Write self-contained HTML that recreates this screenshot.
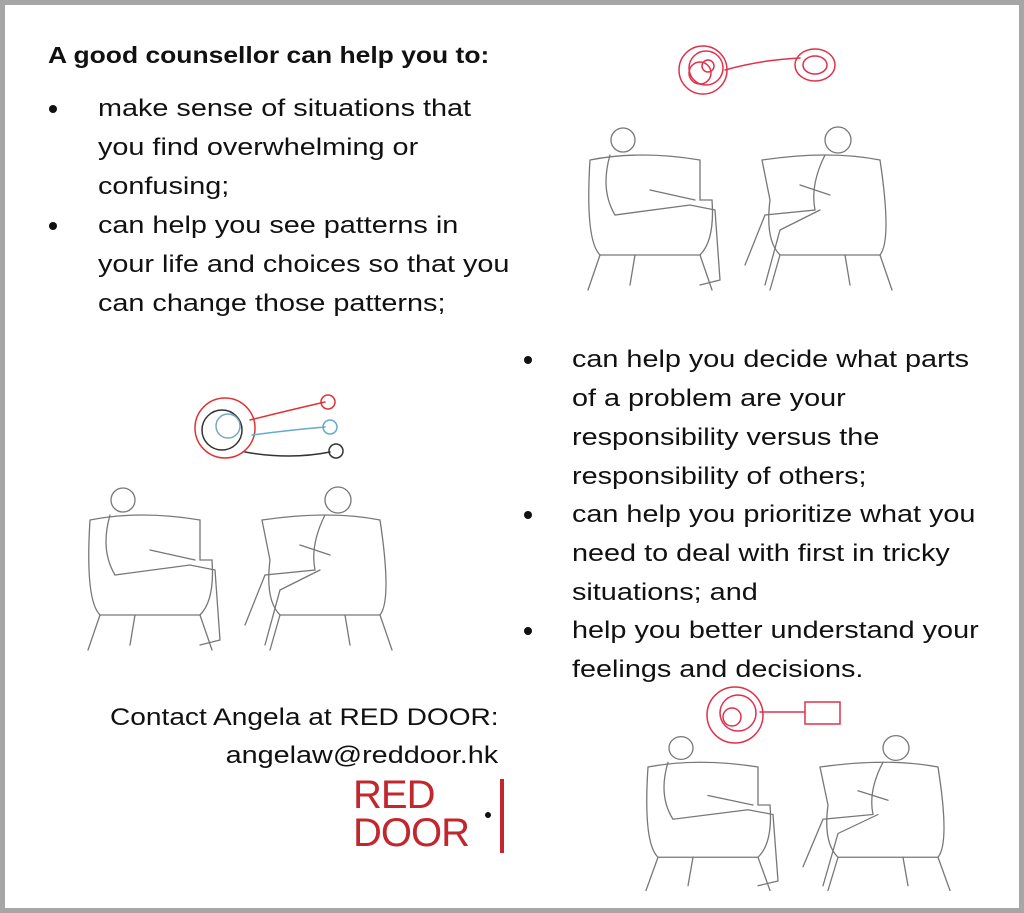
<!DOCTYPE html>
<html><head><style>
body{margin:0;width:1024px;height:913px;background:#fff;position:relative;overflow:hidden;font-family:"Liberation Sans","DejaVu Sans",sans-serif;color:#111}
.frame{position:absolute;left:0;top:0;width:1014px;height:903px;border:5px solid #a6a6a6}
.t{position:absolute;font-size:24px;line-height:39px;white-space:nowrap;transform:scaleX(1.2);transform-origin:left top}
.dot{position:absolute;width:8px;height:8px;border-radius:50%;background:#111}
svg{position:absolute}
</style></head><body>
<div class="frame"></div>
<div class="t" style="left:48px;top:36px;font-weight:bold;font-size:23px;transform:scaleX(1.15)">A good counsellor can help you to:</div>
<div class="dot" style="left:49px;top:105px"></div>
<div class="dot" style="left:49px;top:222px"></div>
<div class="t" style="left:98px;top:89px">make sense of situations that<br>you find overwhelming or<br>confusing;</div>
<div class="t" style="left:98px;top:206px">can help you see patterns in<br>your life and choices so that you<br>can change those patterns;</div>
<div class="dot" style="left:524px;top:356px"></div>
<div class="dot" style="left:524px;top:511px"></div>
<div class="dot" style="left:524px;top:627px"></div>
<div class="t" style="left:572px;top:340px">can help you decide what parts<br>of a problem are your<br>responsibility versus the<br>responsibility of others;</div>
<div class="t" style="left:572px;top:495px">can help you prioritize what you<br>need to deal with first in tricky<br>situations; and</div>
<div class="t" style="left:572px;top:611px">help you better understand your<br>feelings and decisions.</div>
<div class="t" style="left:110px;top:698px;transform:scaleX(1.17)">Contact Angela at RED DOOR:</div>
<div class="t" style="right:526px;top:736px;transform-origin:right top">angelaw@reddoor.hk</div>
<div style="position:absolute;left:353px;top:776px;color:#c1272d;font-size:40px;line-height:38px;letter-spacing:-1px">RED<br>DOOR</div>
<div class="dot" style="left:485px;top:812px;width:6px;height:6px"></div>
<div style="position:absolute;left:500px;top:779px;width:4px;height:74px;background:#c1272d"></div>

<svg width="1024" height="913" style="left:0;top:0" fill="none" stroke-linecap="round">
<g stroke="#e0304a" stroke-width="1.5">
<circle cx="703" cy="70" r="24"/><circle cx="706" cy="68" r="17"/><circle cx="700" cy="73" r="11"/><circle cx="708" cy="66" r="6"/>
<path d="M725 70 Q760 60 800 58"/><ellipse cx="815" cy="65" rx="20" ry="16"/><ellipse cx="815" cy="65" rx="12" ry="9"/>
</g>
<g stroke-width="1.5">
<circle cx="225" cy="428" r="30" stroke="#d33"/><circle cx="222" cy="430" r="20" stroke="#333"/><circle cx="228" cy="426" r="12" stroke="#7ab"/>
<path d="M250 420 Q290 410 325 402" stroke="#d33"/><circle cx="328" cy="402" r="7" stroke="#d33"/>
<path d="M252 435 Q290 430 325 427" stroke="#6ac"/><circle cx="330" cy="427" r="7" stroke="#6ac"/>
<path d="M245 452 Q290 460 330 452" stroke="#333"/><circle cx="336" cy="451" r="7" stroke="#333"/>
</g>
<g stroke="#e0304a" stroke-width="1.5">
<circle cx="735" cy="715" r="28"/><circle cx="738" cy="713" r="18"/><circle cx="732" cy="717" r="9"/>
<path d="M760 712 L805 712"/><rect x="805" y="702" width="35" height="22"/>
</g>
<g stroke="#777" stroke-width="1.3" id="s">
<path d="M590 160 Q585 240 600 255 L700 255 Q715 240 712 200 L700 200 L700 160 Q640 150 590 160"/>
<path d="M600 255 L588 290 M700 255 L712 290 M635 255 L630 285"/>
<circle cx="623" cy="140" r="12"/><path d="M610 155 Q600 190 615 215 L690 205 L715 210 L720 280 L700 285 M650 190 L695 200"/>
<path d="M762 160 Q830 150 880 160 Q892 240 880 255 L780 255 Q765 240 770 200 Z"/>
<path d="M780 255 L770 290 M880 255 L892 290 M845 255 L850 285"/>
<circle cx="838" cy="140" r="13"/><path d="M825 155 Q810 185 815 210 L765 215 L745 265 M820 210 L780 230 L765 285 M800 185 L830 195"/>
</g>
<use href="#s" transform="translate(-500,360)"/>
<use href="#s" transform="translate(58,615) scale(1,0.95)"/>
</svg>
</body></html>
